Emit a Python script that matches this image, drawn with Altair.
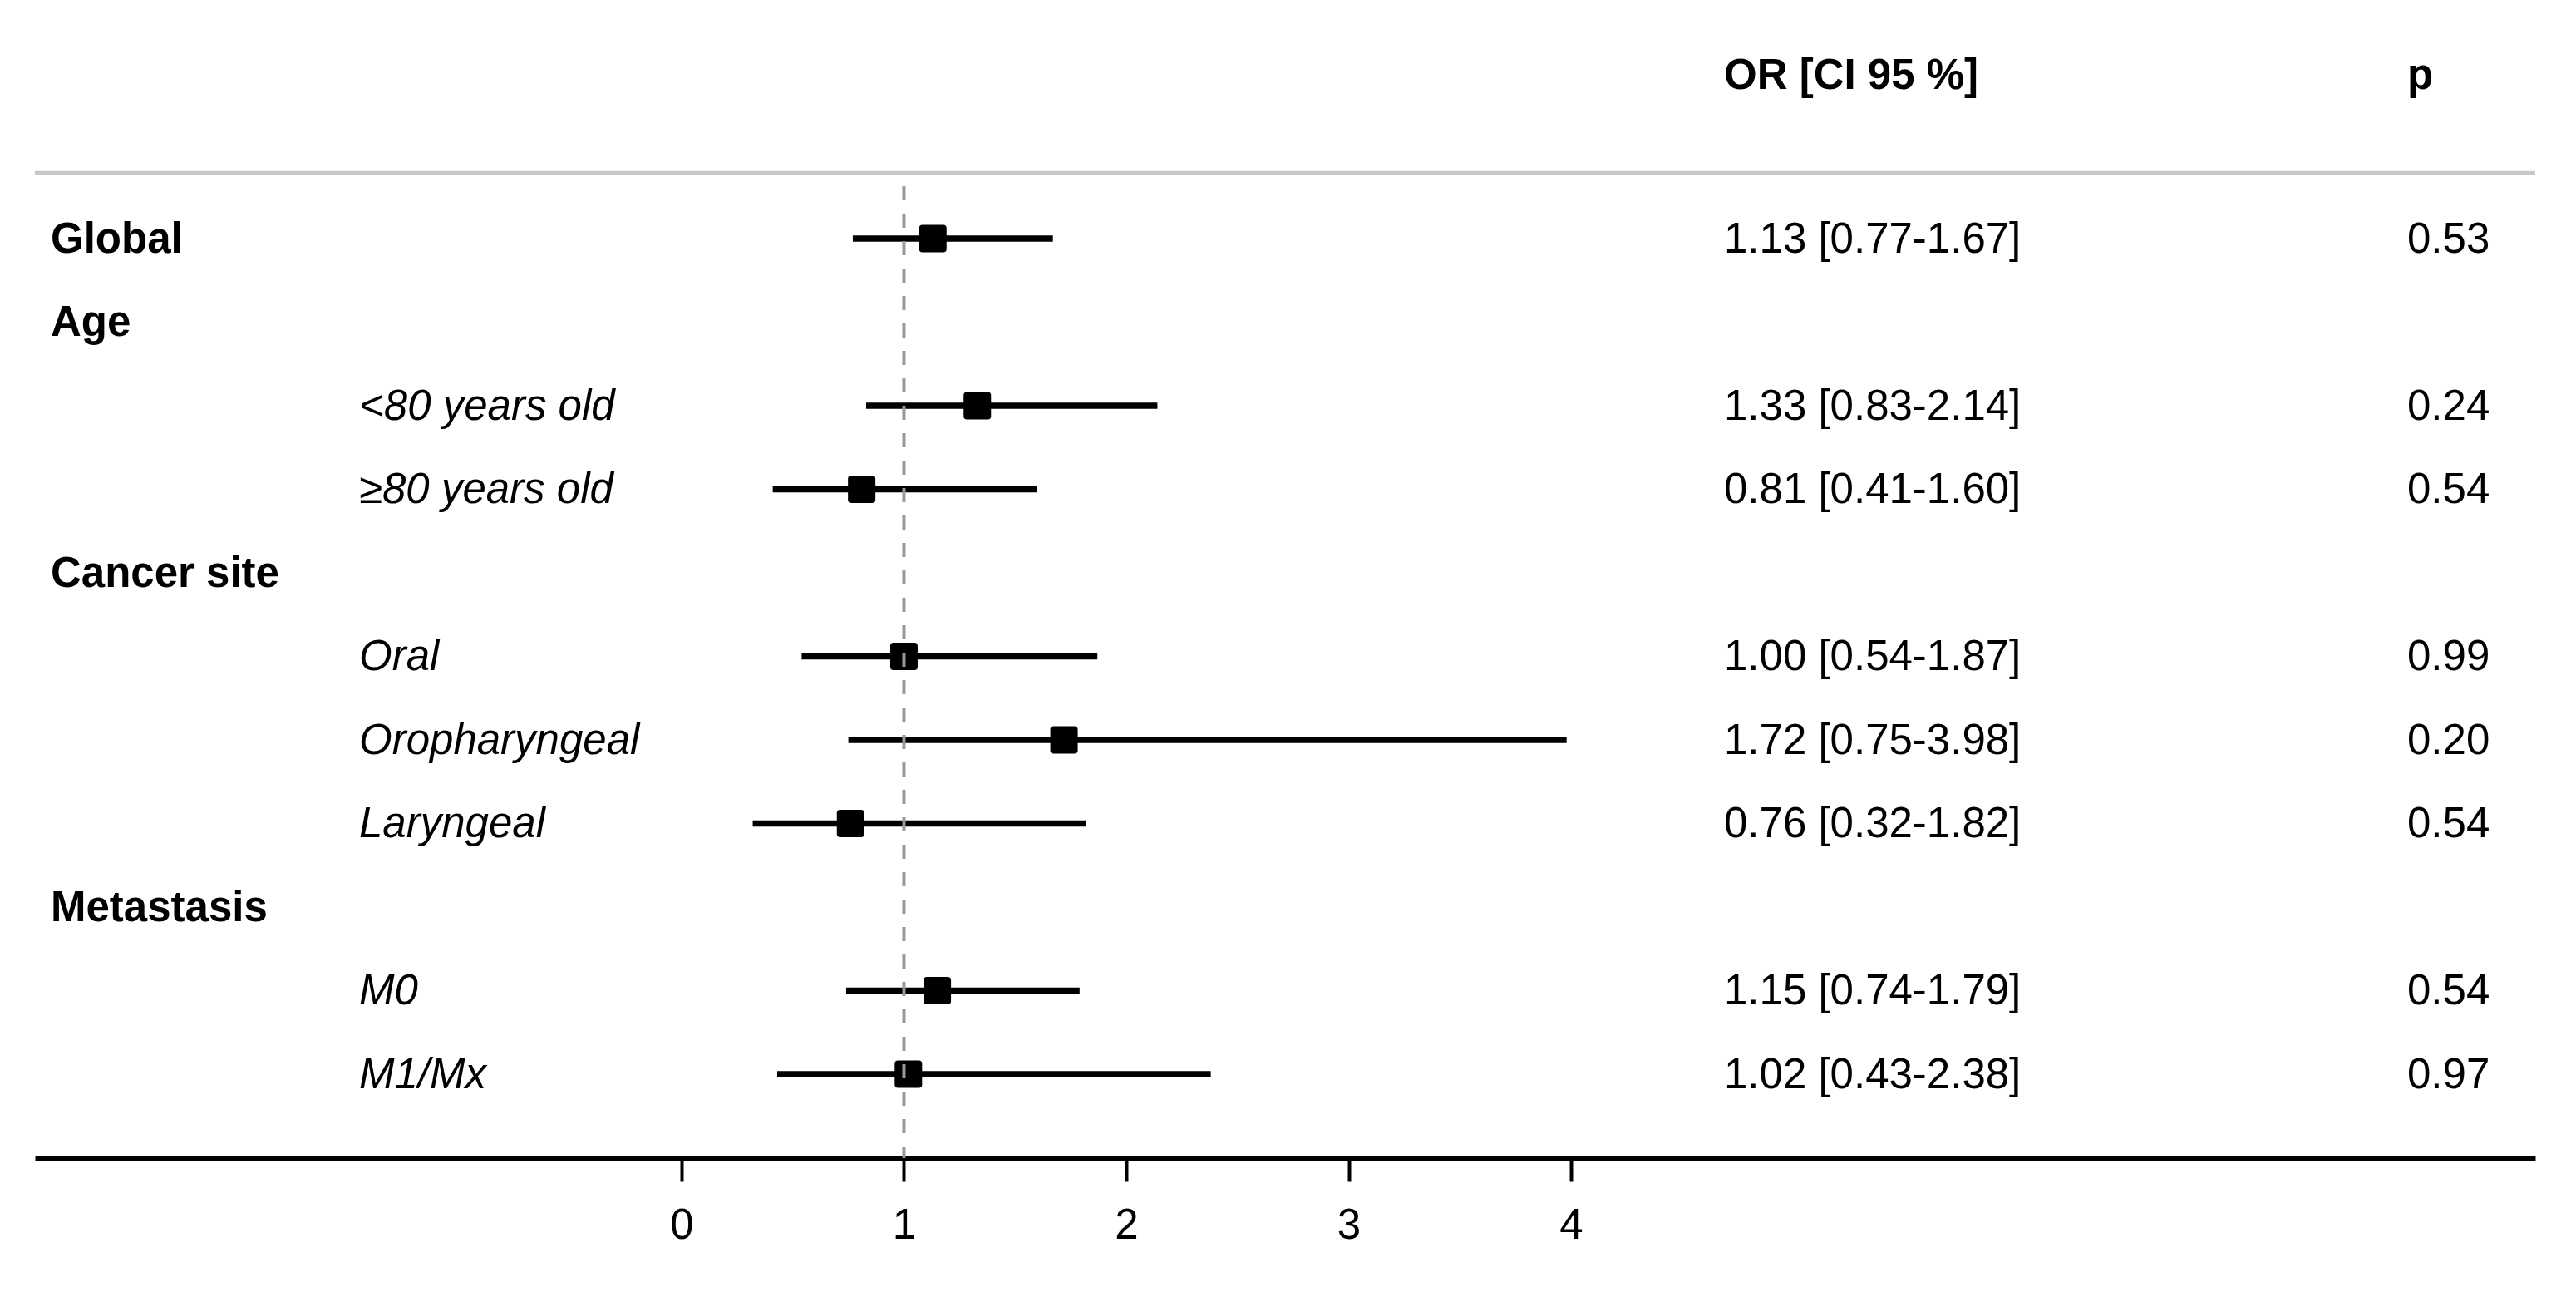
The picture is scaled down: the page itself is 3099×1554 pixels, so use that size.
import altair as alt
import pandas as pd

# ---- data ----
labels = ["Global", "Age", "<80 years old", "≥80 years old", "Cancer site",
          "Oral", "Oropharyngeal", "Laryngeal", "Metastasis", "M0", "M1/Mx"]
is_group = [True, True, False, False, True, False, False, False, True, False, False]
or_vals = [1.13, None, 1.33, 0.81, None, 1.00, 1.72, 0.76, None, 1.15, 1.02]
lo_vals = [0.77, None, 0.83, 0.41, None, 0.54, 0.75, 0.32, None, 0.74, 0.43]
hi_vals = [1.67, None, 2.14, 1.60, None, 1.87, 3.98, 1.82, None, 1.79, 2.38]
p_vals = ["0.53", "", "0.24", "0.54", "", "0.99", "0.20", "0.54", "", "0.54", "0.97"]
tick_values = [0, 1, 2, 3, 4]
ref_value = [1.0]
header_or = "OR [CI 95 %]"
header_p = "p"

rows = list(range(1, len(labels) + 1))
or_text = [
    f"{o:.2f} [{l:.2f}-{h:.2f}]" if o is not None else ""
    for o, l, h in zip(or_vals, lo_vals, hi_vals)
]

df = pd.DataFrame({
    "row": rows,
    "label": labels,
    "group": is_group,
    "OR": or_vals,
    "lo": lo_vals,
    "hi": hi_vals,
    "or_text": or_text,
    "p": p_vals,
})

# ---- layout ----
W, H = 3008, 1365
FONT = "Liberation Sans"
FS = 51

xscale = alt.Scale(domain=[-2.908, 8.336], nice=False, zero=False)
yscale = alt.Scale(domain=[-1.577, 12.005], nice=False, zero=False, reverse=True)

ax = alt.Axis(values=tick_values, title=None, grid=False, domainColor="black",
              domainWidth=5, tickColor="black", tickWidth=4, tickSize=28,
              labelFont=FONT, labelFontSize=FS, labelColor="black",
              labelPadding=28, format="d", labelOverlap=False)

ROUNDED_SQUARE = ("M -0.76 -1 L 0.76 -1 Q 1 -1 1 -0.76 L 1 0.76 Q 1 1 0.76 1 "
                  "L -0.76 1 Q -1 1 -1 0.76 L -1 -0.76 Q -1 -1 -0.76 -1 Z")

base = alt.Chart(df)

ci = base.transform_filter("isValid(datum.OR)").mark_rule(
    color="black", strokeWidth=7.5
).encode(
    x=alt.X("lo:Q", scale=xscale, axis=ax),
    x2="hi:Q",
    y=alt.Y("row:Q", scale=yscale, axis=None),
)

sq = base.transform_filter("isValid(datum.OR)").mark_point(
    shape=ROUNDED_SQUARE, size=1089, filled=True, color="black", opacity=1, strokeWidth=0
).encode(
    x=alt.X("OR:Q", scale=xscale, axis=ax),
    y=alt.Y("row:Q", scale=yscale, axis=None),
)

ref = alt.Chart(pd.DataFrame({"ref": ref_value})).mark_rule(
    color="#999999", strokeWidth=4, strokeDash=[17, 16]
).encode(
    x=alt.X("ref:Q", scale=xscale, axis=ax),
    y=alt.value(196),
    y2=alt.value(H),
)

group_txt = base.transform_filter("datum.group").mark_text(
    font=FONT, fontSize=FS, fontWeight="bold", align="left", baseline="middle",
    color="black", dy=2
).encode(
    x=alt.value(19),
    y=alt.Y("row:Q", scale=yscale, axis=None),
    text="label:N",
)

sub_txt = base.transform_filter("!datum.group").mark_text(
    font=FONT, fontSize=FS, fontStyle="italic", align="left", baseline="middle",
    color="black", dy=2
).encode(
    x=alt.value(390),
    y=alt.Y("row:Q", scale=yscale, axis=None),
    text="label:N",
)

or_txt = base.mark_text(
    font=FONT, fontSize=FS, align="left", baseline="middle", color="black", dy=2
).encode(
    x=alt.value(2032),
    y=alt.Y("row:Q", scale=yscale, axis=None),
    text="or_text:N",
)

p_txt = base.mark_text(
    font=FONT, fontSize=FS, align="left", baseline="middle", color="black", dy=2
).encode(
    x=alt.value(2854),
    y=alt.Y("row:Q", scale=yscale, axis=None),
    text="p:N",
)

one = pd.DataFrame({"a": [0]})
hdr_or = alt.Chart(one).mark_text(
    font=FONT, fontSize=FS, fontWeight="bold", align="left", baseline="middle",
    color="black", text=header_or
).encode(x=alt.value(2032), y=alt.value(64))

hdr_p = alt.Chart(one).mark_text(
    font=FONT, fontSize=FS, fontWeight="bold", align="left", baseline="middle",
    color="black", text=header_p
).encode(x=alt.value(2854), y=alt.value(64))

top_rule = alt.Chart(one).mark_rule(
    color="#c8c8c8", strokeWidth=4.5
).encode(
    x=alt.value(0), x2=alt.value(W), y=alt.value(180)
)

chart = alt.layer(
    top_rule, hdr_or, hdr_p, ci, sq, group_txt, sub_txt, or_txt, p_txt, ref
).properties(
    width=W, height=H,
    padding={"left": 34, "top": 20, "right": 41, "bottom": 150},
    autosize=alt.AutoSizeParams(type="none"),
    background="white",
).configure_view(stroke=None)

chart.save("out.html", embed_options={"renderer": "svg", "actions": False})
